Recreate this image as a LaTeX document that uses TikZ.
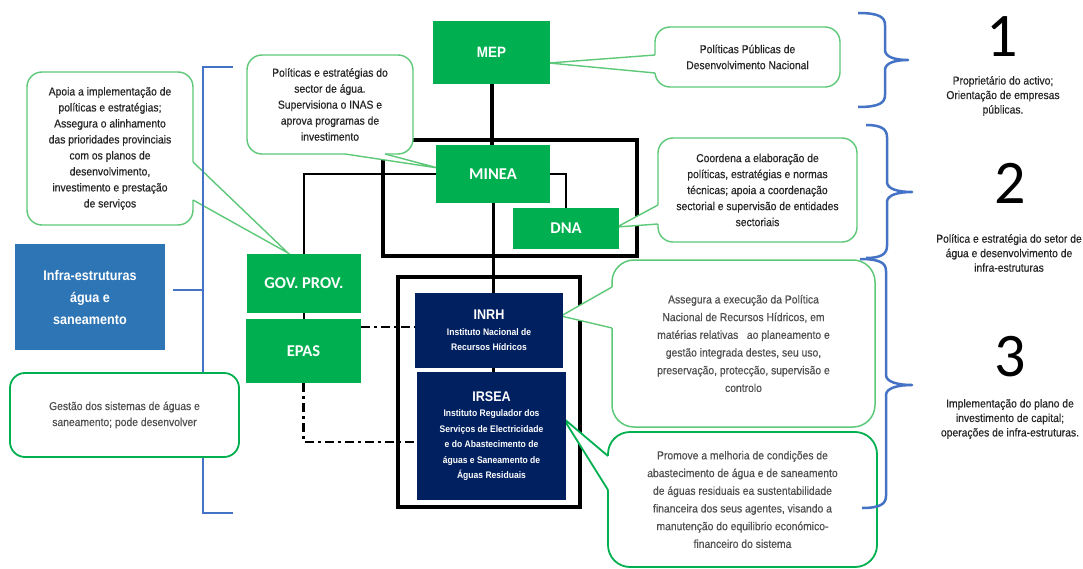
\documentclass[tikz,border=0pt]{standalone}
\usepackage{fontspec}
\newfontfamily\narfont[FakeStretch=0.9]{Liberation Sans}
\newfontfamily\txtfont[FakeStretch=0.9,FakeBold=0.5]{Liberation Sans}
\newfontfamily\calfont{Carlito}
\usetikzlibrary{calc}
\pgfdeclarelayer{bg}
\pgfdeclarelayer{mid}
\pgfsetlayers{bg,mid,main}
\definecolor{cGreen}{HTML}{00B050}
\definecolor{cNavy}{HTML}{002060}
\definecolor{cBlueBox}{HTML}{2E75B6}
\definecolor{cBlueLine}{HTML}{4472C4}
\definecolor{cLightGreen}{HTML}{5CC878}
\definecolor{cTxt}{HTML}{262626}
\definecolor{cGrayTxt}{HTML}{505050}
\tikzset{
  gbox/.style={fill=cGreen, draw=none, text=white, inner sep=0pt, align=center,
    font=\calfont\bfseries\fontsize{16.5}{18}\selectfont},
  nbox/.style={fill=cNavy, draw=none, text=white, inner sep=0pt, align=center,
    font=\narfont\bfseries\fontsize{9.5}{15.5}\selectfont},
  callbox/.style={draw=cLightGreen, line width=1.4pt, fill=white, rounded corners=15pt,
    inner sep=0pt, align=center, text=cTxt, font=\txtfont\fontsize{11.5}{16}\selectfont},
  callboxB/.style={callbox, draw=cGreen, line width=1.8pt, rounded corners=22pt, text=cGrayTxt,
    font=\txtfont\fontsize{11.5}{17.7}\selectfont},
  wedgeA/.style={draw=cLightGreen, line width=1.4pt, line join=miter},
  wedgeB/.style={draw=cGreen, line width=1.8pt, line join=miter},
  heavy/.style={line width=4pt, draw=black},
  midline/.style={line width=3pt, draw=black},
  thinline/.style={line width=2pt, draw=black},
  dashdot/.style={line width=2.5pt, draw=black, dash pattern=on 9pt off 4pt on 3pt off 4pt},
  bluebr/.style={line width=2.5pt, draw=cBlueLine, line cap=butt},
  righttxt/.style={align=center, text=cTxt, font=\txtfont\fontsize{11.5}{14.5}\selectfont},
  bignum/.style={font=\calfont\fontsize{62}{62}\selectfont, text=black, inner sep=0pt}
}
\begin{document}
\begin{tikzpicture}[x=1pt,y=-1pt]
\useasboundingbox (0,0) rectangle (1083,569);

% ---------- main boxes ----------
\node[gbox, minimum width=117pt, minimum height=63pt] (mep) at (491.5,52.5)
  {\narfont\bfseries\fontsize{15}{18}\selectfont MEP};
\node[gbox, minimum width=114pt, minimum height=58pt] (minea) at (493,174) {MINEA};
\node[gbox, minimum width=106pt, minimum height=41pt] (dna) at (566,228.5) {DNA};
\node[gbox, minimum width=114pt, minimum height=59pt] (gov) at (304,283.5) {GOV. PROV.};
\node[gbox, minimum width=115pt, minimum height=64pt] (epas) at (303.5,351) {EPAS};
\node[nbox, minimum width=148pt, minimum height=75pt] (inrh) at (489,330.5)
  {{\fontsize{14}{16}\selectfont INRH}\\Instituto Nacional de\\Recursos Hídricos};
\node[nbox, minimum width=149pt, minimum height=128pt] (irsea) at (491.5,436)
  {{\fontsize{14}{16}\selectfont IRSEA}\\Instituto Regulador dos\\Serviços de Electricidade\\e do Abastecimento de\\águas e Saneamento de\\Águas Residuais};
\node[fill=cBlueBox, text=white, inner sep=0pt, align=center, minimum width=150pt, minimum height=106pt,
  font=\narfont\bfseries\fontsize{14}{22}\selectfont] (infra) at (90,297)
  {Infra-estruturas\\água e\\saneamento};

% ---------- right side ----------
\node[bignum] (n1) at (1002,37) {1};
\node[bignum] (n2) at (1010,183) {2};
\node[bignum] (n3) at (1010,357) {3};
\node[righttxt] (t1) at (1003,96) {Proprietário do activo;\\Orientação de empresas\\públicas.};
\node[righttxt] (t2) at (1009,253) {Política e estratégia do setor de\\água e desenvolvimento de\\infra-estruturas};
\node[righttxt] (t3) at (1010,419) {Implementação do plano de\\investimento de capital;\\operações de infra-estruturas.};

% ---------- structure lines ----------
\begin{pgfonlayer}{bg}
  \draw[heavy] (383,140) rectangle (637,256);
  \draw[heavy] (398,277) rectangle (580,507);
  \draw[heavy] (mep.south) -- (mep.south |- minea.north);
  \draw[midline] (minea.south) -- (minea.south |- irsea.north);
  \draw[thinline] (minea.west) -| (gov.north);
  \draw[thinline] (minea.east) -| (dna.north);
  \coordinate (ddtop) at (0,327);
  \coordinate (ddbot) at (0,442);
  \draw[dashdot] (epas.east |- ddtop) -- (inrh.west |- ddtop);
  \draw[dashdot] (gov.south) -- (gov.south |- epas.north);
  \draw[dashdot] (epas.south) |- (irsea.west |- ddbot);
\end{pgfonlayer}

% ---------- callouts ----------
\begin{pgfonlayer}{mid}
  % C1
  \node[callbox, minimum width=166pt, minimum height=153pt] (c1) at (110,148.5)
    {Apoia a implementação de\\políticas e estratégias;\\Assegura o alinhamento\\das prioridades provinciais\\com os planos de\\desenvolvimento,\\investimento e prestação\\de serviços};
  \coordinate (c1tip) at (288,253);
  \fill[white] (193,162) -- (c1tip) -- (193,200) -- (189,200) -- (189,162) -- cycle;
  \draw[wedgeA] (193,162) -- (c1tip) -- (193,200);
  % blue bracket
  \coordinate (brk) at (203,290);
  \draw[bluebr] (233,67) -- (203,67) -- (203,513) -- (233,513);
  \draw[bluebr] ([xshift=8pt]infra.east |- brk) -- (brk);
  % C7
  \node[callboxB, draw=cGreen, line width=1.8pt, rounded corners=15pt, minimum width=229pt, minimum height=84pt,
    font=\txtfont\fontsize{11.5}{16}\selectfont] (c7) at (124.5,415)
    {Gestão dos sistemas de águas e\\saneamento; pode desenvolver};
  % C2
  \node[callbox, minimum width=166pt, minimum height=99pt] (c2) at (330,104.5)
    {Políticas e estratégias do\\sector de água.\\Supervisiona o INAS e\\aprova programas de\\investimento};
  \coordinate (c2tip) at (438,168);
  \fill[white] (345,154) -- (c2tip) -- (385,154) -- (385,150) -- (345,150) -- cycle;
  \draw[wedgeA] (345,154) -- (c2tip) -- (385,154);
  % C3
  \node[callbox, minimum width=185pt, minimum height=60pt] (c3) at (747.5,57)
    {Políticas Públicas de\\Desenvolvimento Nacional};
  \coordinate (c3tip) at (549,63);
  \fill[white] (655,55) -- (c3tip) -- (655,73) -- (659,73) -- (659,55) -- cycle;
  \draw[wedgeA] (655,55) -- (c3tip) -- (655,73);
  % C4
  \node[callbox, minimum width=199pt, minimum height=104pt] (c4) at (757.5,190)
    {Coordena a elaboração de\\políticas, estratégias e normas\\técnicas; apoia a coordenação\\sectorial e supervisão de entidades\\sectoriais};
  \coordinate (c4tip) at (617,227);
  \fill[white] (658,205) -- (c4tip) -- (658,224) -- (662,224) -- (662,205) -- cycle;
  \draw[wedgeA] (658,205) -- (c4tip) -- (658,224);
  % C5
  \node[callboxB, draw=cLightGreen, line width=1.5pt, minimum width=263pt, minimum height=167pt] (c5) at (743.5,343.5)
    {Assegura a execução da Política\\Nacional de Recursos Hídricos, em\\matérias relativas \ \ ao planeamento e\\gestão integrada destes, seu uso,\\preservação, protecção, supervisão e\\controlo};
  \coordinate (c5tip) at (561,316);
  \fill[white] (612,287) -- (c5tip) -- (612,328) -- (616,328) -- (616,287) -- cycle;
  \draw[wedgeA] (612,287) -- (c5tip) -- (612,328);
  % C6
  \node[callboxB, minimum width=269pt, minimum height=135pt] (c6) at (742.5,499.5)
    {Promove a melhoria de condições de\\abastecimento de água e de saneamento\\de águas residuais ea sustentabilidade\\financeira dos seus agentes, visando a\\manutenção do equilibrio económico-\\financeiro do sistema};
  \coordinate (c6tip) at (563,418);
  \fill[white] (608,456) -- (c6tip) -- (608,490) -- (612,490) -- (612,456) -- cycle;
  \draw[wedgeB] (608,456) -- (c6tip) -- (608,490);
  % braces
  \draw[bluebr, line join=round]
    (858,13) .. controls (879,13) and (885,17) .. (885,25) -- (885,50)
    .. controls (885,57) and (895,60) .. (908,60)
    .. controls (895,60) and (885,63) .. (885,70) -- (885,95)
    .. controls (885,103) and (879,107) .. (858,107);
  \draw[bluebr, line join=round]
    (866,125) .. controls (881,125) and (887,129) .. (887,137) -- (887,182)
    .. controls (887,189) and (898,192) .. (912,192)
    .. controls (898,192) and (887,195) .. (887,202) -- (887,246)
    .. controls (887,254) and (881,258) .. (866,258);
  \draw[bluebr, line join=round]
    (860,259) .. controls (880,259) and (886,263) .. (886,271) -- (886,375)
    .. controls (886,382) and (898,385) .. (912,385)
    .. controls (898,385) and (886,388) .. (886,395) -- (886,496)
    .. controls (886,504) and (880,508) .. (862,508);
\end{pgfonlayer}
\end{tikzpicture}
\end{document}
